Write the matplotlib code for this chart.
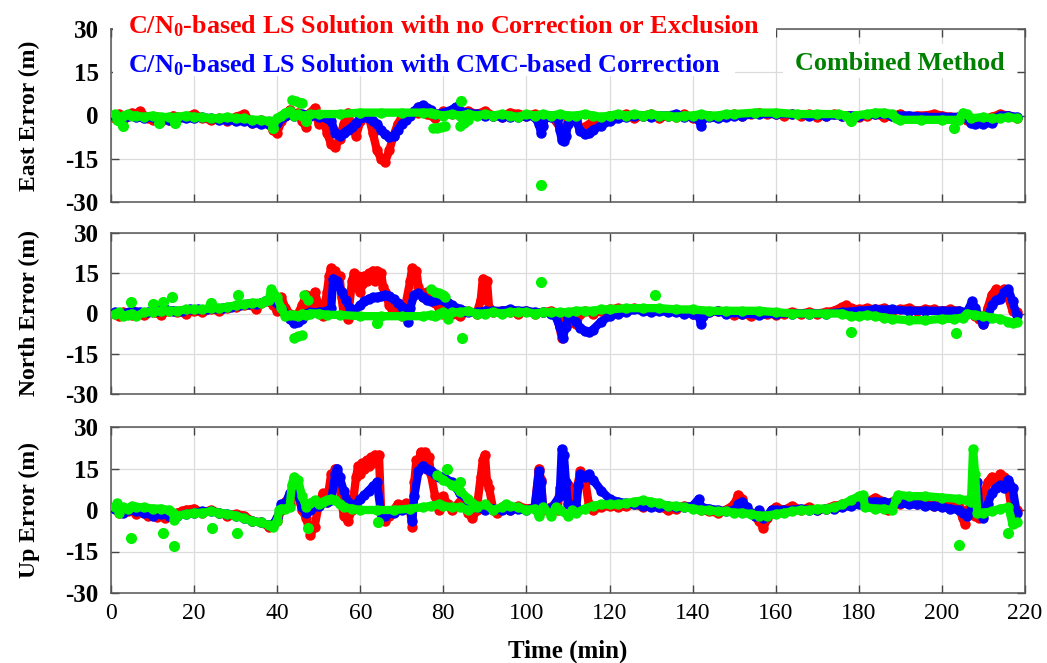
import matplotlib.pyplot as plt
from matplotlib.patches import Rectangle

plt.rcParams['font.family'] = 'Liberation Serif'
plt.rcParams['mathtext.fontset'] = 'custom'
plt.rcParams['mathtext.rm'] = 'Liberation Serif:bold'
plt.rcParams['mathtext.default'] = 'rm'
plt.rcParams['axes.unicode_minus'] = False

# ---------------- East error (m) ----------------
east_red_t = [1, 2, 3, 4, 5, 6, 7, 8, 9, 10, 11, 12, 13, 14, 15, 16, 18, 20, 22, 24, 26, 28, 30, 32, 34, 36, 38, 39, 40,
              41, 42, 43, 44, 45, 46, 47, 48, 49, 50, 51, 52, 53, 54, 55, 56, 57, 58, 59, 60, 61, 62, 63, 64, 65, 66,
              67, 68, 69, 70, 72, 74, 76, 78, 80, 82, 84, 86, 88, 90, 92, 94, 96, 98, 100, 102, 104, 106, 108, 109,
              110, 112, 113, 114, 116, 118, 120, 122, 124, 126, 128, 130, 132, 134, 136, 138, 140, 142, 144, 146, 148,
              150, 152, 154, 156, 158, 160, 162, 164, 166, 168, 170, 172, 174, 176, 178, 180, 182, 184, 186, 188, 190,
              192, 194, 196, 198, 200, 202, 204, 206, 208, 210, 212, 214, 216, 218]
east_red_v = [-1, 0.5, -1.5, 0, 1, 0.5, 1.5, 0, -1, -1.5, -0.5, -2, -1, -1.5, 0, -0.5, -0.5, 0.5, -1, -1.5, -1, -2, -0.5,
              0.5, -2.5, -1.5, -3, -5, -6, -2, 0, 2, 0.5, 1, -2, -4, 1, 2.5, -3, -1, -6, -10, -11, -8, -3, 1, -4, -7, -2,
              0.5, 0, -6, -12, -15, -16, -12, -7, -3, -0.5, 0.5, 1, 0.5, -1, 1.5, 0.5, 1, 1.5, 0.5, 1.5, 0, -0.5, 1, 0.5,
              0, 0.5, -1, 0, -4, -8, -2, -1, -5, -4, -2, -1, 0, -0.5, 0.5, -1, 0, 0.5, -1, 0, -0.5, 0.5, -1, -1.5, 0,
              -0.5, 0, 0.5, 0, 0.5, 1, 0.5, 0.5, 0, 0.5, 0, 0.5, -0.5, 0, 0.5, 0, 0, -0.5, 0, 0.5, -0.5, 0, 0.5, -0.5, 0,
              0, 0.5, 0, -0.5, -0.5, -1.5, -2, -1.5, -0.5, 0.5, 0, -1]

east_blue_t = [1, 2, 3, 4, 6, 8, 10, 12, 14, 16, 18, 20, 22, 24, 26, 28, 30, 32, 34, 36, 38, 40, 41, 42, 44, 46, 48, 50,
               52, 53, 54, 55, 56, 57, 58, 59, 60, 61, 62, 63, 64, 65, 66, 67, 68, 69, 70, 71, 72, 73, 74, 75, 76, 77,
               78, 80, 82, 83, 84, 86, 88, 90, 92, 94, 96, 98, 100, 102, 103, 103.5, 104, 104.5, 106, 107.5, 108, 108.5,
               109, 109.5, 110, 111, 112, 113, 114, 115, 116, 118, 120, 122, 124, 126, 128, 130, 132, 134, 136, 138,
               140, 141.5, 142, 142.5, 144, 146, 148, 150, 152, 156, 160, 164, 168, 172, 176, 180, 184, 188, 192, 196,
               200, 204, 206, 207, 208, 210, 212, 213, 214, 216, 218]
east_blue_v = [0, -1, -0.5, 0, -0.5, -1, -0.5, -1, -1.5, -1, -1, -1, -0.5, -1, -1.5, -1.5, -2, -2, -2.5, -3, -3, -2.5,
               -1, 0, 0, 0.5, 0, -0.5, -1, -2, -6, -7, -6, -5, -4, -2.5, -1, -0.5, -1, -2, -3, -5, -6.5, -7.5, -7, -5,
               -3, -1.5, 0, 1.5, 3, 3.5, 2.5, 2, 0.5, 1, 2, 3, 1.5, 1, 0.5, 0, 0, -0.5, -0.5, -0.5, 0, -0.5, -3, -6,
               -3.5, -0.5, -0.5, -1, -5, -8.5, -9, -7, -3, -1, -2, -5.5, -6.5, -6, -5, -3.5, -2, -1, -0.5, 0, 0, -0.5,
               0, 0, 0.5, -0.5, -0.5, -1.5, -3.5, -1, -0.5, -1, -0.5, 0, 0, 0.5, 0.5, 0.5, 0, 0, 0, 0, 0.5, 0, 0, -0.5,
               -0.5, -0.5, -1, -2.5, -3, -3, -2.5, -1, 0, 0, -0.5]

east_green_t = [1, 1.5, 2, 3, 4, 5, 6, 8, 10, 12, 14, 16, 18, 20, 22, 24, 26, 28, 30, 32, 34, 36, 38, 39, 40, 41, 42,
                43, 44, 45, 46, 47, 48, 50, 55, 60, 65, 70, 75, 77, 78, 80, 82, 84, 86, 88, 90, 92, 94, 96, 98, 100,
                102, 104, 106, 108, 110, 112, 114, 116, 118, 120, 122, 124, 126, 128, 130, 132, 134, 136, 138, 140,
                142, 144, 146, 148, 150, 155, 160, 165, 170, 175, 177, 178, 179, 182, 184, 186, 188, 189, 190, 195,
                200, 204, 205, 206, 207, 210, 212, 214, 216, 218]
east_green_v = [0.5, -1.5, -2, 0, 0.5, 0, 0, -0.5, 0, -0.5, -0.5, -0.5, 0, -0.5, -0.5, -1, -1, -0.5, -1, -1, -1.5,
                -1.5, -2, -2.5, -1, 0, 1, 1.5, 0, 0.5, 0, 0, 0.5, 0.5, 0.5, 1, 1, 1, 1, 1, 0.5, 0, 0.5, 0, 0.5, 0,
                0.5, 0, 0.5, 0, -0.5, 0.5, 0, 0.5, 0, 0.5, 0, 0, 0.5, 0, -0.5, 0, 0.5, 0, 0.5, 0, 0.5, 0, 0, -0.5, 0,
                0, 0.5, 0, 0, 0.5, 0.5, 1, 1, 0.5, 0.5, 0.5, 0, -1, 0, 0.5, 1, 1, 0.5, -1, -1.5, -1.5, -1.5, -1.5, 1,
                0.5, -1, -0.5, -1, -1, -0.5, -1]
east_green_seg_t = [[43.5, 44.5, 45.5, 46], [77.5, 78.5, 79.5, 80.3], [84, 85, 86]]
east_green_seg_v = [[5.5, 5, 4.5, 4.5], [-4.5, -4.2, -4, -3.8], [-3.5, -2.5, -1.5]]
east_green_out_t = [3, 11.5, 15.5, 39, 47, 84.2, 103.6, 178, 203]
east_green_out_v = [-3.5, -2.5, -2.5, -4.5, -2, 5.2, -24, -2, -4.3]

# ---------------- North error (m) ----------------
north_red_t = [1, 2, 3, 4, 5, 6, 8, 10, 12, 14, 16, 18, 20, 22, 24, 26, 28, 30, 32, 34, 35, 36, 38, 39, 40, 41, 42,
               43, 44, 45, 46, 47, 48, 49, 50, 51, 52, 52.5, 53, 53.5, 54, 54.5, 55, 55.5, 56, 57, 58, 58.5, 59,
               59.5, 60, 60.5, 61, 61.5, 62, 62.5, 63, 63.5, 64, 64.5, 65, 65.5, 66, 67, 68, 69, 70, 71, 72, 72.5,
               73, 73.5, 74, 75, 76, 77, 78, 79, 80, 81, 82, 84, 86, 88, 89, 89.5, 90, 90.5, 91, 92, 94, 96, 98,
               100, 102, 104, 106, 107.5, 108.5, 109.5, 110, 111, 112, 113, 114, 116, 118, 120, 122, 124, 126, 128,
               130, 132, 134, 136, 138, 140, 142, 144, 146, 148, 150, 152, 154, 156, 158, 160, 162, 164, 166, 168,
               170, 172, 174, 176, 177, 178, 180, 182, 184, 186, 188, 190, 192, 194, 196, 198, 200, 202, 204, 205,
               206, 208, 209, 210, 211, 212, 213, 214, 215, 216, 217, 218]
north_red_v = [0, -1, 0.5, 0, -0.5, 0.5, -0.5, 0.5, -0.5, 1, 0.5, 0, 1, 0.5, 1.5, 1, 2, 2.5, 3, 3, 1.5, 4, 4.5, 3, 1,
               6, 2, 0, -1, 0, 3, 7, 1, 8, 3, -1, 8, 14, 17, 13, 16, 11, 14, 6, 0, -2, 12, 15, 10, 14, 8, 11, 14, 12,
               15, 13, 16, 12, 16, 13, 15, 10, 8, 3, 0, 2, -1, 4, 12, 17, 13, 16, 10, 6, 8, 8.5, 4, 2, 0, 4, 0, -1, 1,
               0, 5, 13, 8, 12, 2, 0.5, 1, 0.5, 0, 1, 0, 0.5, 1, -2, -9, -3, 0, -3, -4, 0, 1, 0, 1, 1.5, 2, 1, 2, 1.5,
               1, 1.5, 1, 1, 0.5, 0, 1, 0.5, 1, 0.5, -0.5, 0, -1, 0.5, 0, -0.5, 0, 0.5, 0, 0.5, 0, 0.5, 1, 2.5, 3, 2,
               1.5, 2, 1.5, 2, 1, 1.5, 2, 1, 1.5, 1.5, 1, 1.5, 1, -1, 0.5, -1, -2, -4, 2, 7, 9, 8, 9, 6, 1, 0.5]

north_blue_t = [1, 3, 5, 7, 9, 11, 13, 15, 17, 19, 21, 23, 25, 27, 29, 31, 33, 35, 37, 39, 40, 41, 42, 43, 44, 45,
                46, 47, 48, 50, 52, 53, 53.5, 54.5, 55.5, 56.5, 57.5, 58.5, 60, 61, 62, 63, 64, 65, 66, 67, 68, 69,
                70, 71, 71.5, 72, 73, 74, 75, 76, 77, 78, 79, 80, 81, 82, 83, 84, 85, 86, 88, 90, 92, 94, 96, 98,
                100, 102, 104, 106, 107, 108, 108.7, 109.5, 110, 112, 113, 114, 115, 116, 118, 120, 122, 124, 126,
                128, 130, 132, 134, 136, 138, 140, 141.5, 142, 142.5, 144, 146, 148, 150, 152, 156, 160, 164, 168,
                172, 176, 180, 184, 188, 192, 196, 200, 204, 206, 207.3, 208, 209, 210, 211, 212, 213, 214, 215,
                216, 217, 218]
north_blue_v = [0.5, 0, 1, 0.5, 0.5, 1, 1.5, 1, 1, 1.5, 1.5, 1.5, 2, 2, 2.5, 3, 3.5, 3.5, 4.5, 5, 4, 2, 0, -2, -3.5,
                -3, -2, 0, 0.5, 0.5, 1, 2, 13, 12, 8, 5, 2, 1, 3, 4.5, 5.5, 6, 6, 6.5, 7, 6.5, 5.5, 4, 2.5, 0, -3, 2,
                7, 7.5, 6, 5, 4.5, 5, 5.5, 5, 4, 3, 2, 1.5, 1, 0.5, 0.5, 1, 1, 1, 1.5, 1, 1, 0.5, 0.5, 0, -1, -5, -9,
                -5, -1, -3, -5.5, -6.5, -7, -6, -3, -1, 0, 0.5, 1.5, 1, 0.5, 1, 0.5, 0.5, 0, 0, -1, -4, -1, 0.5, 1, 0,
                0.5, 0, -0.5, 0, 0, 0, 0, 0.5, 1, 1.5, 1.5, 1, 1, 1, 1, 0.5, 4.5, 2, -1, -4, -1.5, 3, 5, 5.5, 8, 9,
                4.5, -0.5]

north_green_t = [1, 2, 3, 4, 5, 6, 8, 10, 12, 14, 16, 18, 20, 22, 24, 26, 28, 30, 32, 34, 36, 37, 38, 38.5, 39, 40,
                 41, 42, 43, 44, 45, 46, 47, 48, 50, 52, 55, 60, 65, 70, 75, 77, 78, 79, 80, 81, 82, 84, 86, 88, 90,
                 92, 94, 96, 98, 100, 102, 104, 106, 108, 110, 112, 114, 116, 118, 120, 124, 128, 132, 136, 140, 144,
                 148, 152, 156, 160, 164, 168, 172, 176, 178, 180, 182, 184, 186, 188, 192, 196, 200, 203, 205, 206,
                 208, 210, 212, 214, 216, 217, 218]
north_green_v = [0, 0.5, -1, -0.5, 0, -1, 0.5, 0.5, 1, 1, 1, 1.5, 1.5, 1.5, 2, 2, 2.5, 3, 3.5, 4, 4, 4.5, 5, 9, 7.5,
                 6, 2, -1, -0.5, -0.5, -1, 0, -0.5, 0, 0, -0.5, -0.5, -1, -1, -1, -1, -0.5, -1, 0, 0.5, -2, 0.5, 0.5,
                 1, 0, 0, 0.5, 0, 0.5, 0.5, 0.5, 0, 0.5, 0.5, 0.5, 0.5, 1, 1, 1, 1.5, 1.5, 2, 2, 2, 1.5, 1.5, 1, 1, 1,
                 1, 0.5, 0, 0, 0, 0, -1, -1, -0.5, -1, -1.5, -2, -2.5, -2.5, -2, -2, -1.5, 0, -0.5, -1, -1.5, -2, -3,
                 -3.5, -3]
north_green_seg_t = [[44, 45, 46], [46.5, 47.5], [77, 78, 79, 80, 80.5]]
north_green_seg_v = [[-9, -8.5, -8], [7, 5], [9, 8, 7.5, 7, 6]]
north_green_out_t = [4.8, 10, 12.4, 14.8, 24, 30.5, 64, 84.4, 103.6, 131, 178, 203.4]
north_green_out_v = [4.4, 3.4, 4.4, 6.3, 3.8, 6.8, -3.4, -9.3, 11.6, 7, -6.8, -7.4]

# ---------------- Up error (m) ----------------
up_red_t = [1, 2, 3, 4, 5, 6, 7, 8, 9, 10, 11, 12, 13, 14, 15, 16, 17, 18, 20, 22, 24, 26, 28, 30, 32, 34, 36, 38,
            39, 40, 41, 42, 43, 44, 45, 46, 47, 48, 49, 50, 51, 52, 53, 53.5, 54, 54.5, 55, 56, 57, 58, 59, 59.5,
            60, 60.5, 61, 61.5, 62, 62.5, 63, 63.5, 64, 64.5, 65, 66, 67, 68, 69, 70, 71, 72, 72.5, 73, 73.5, 74,
            74.5, 75, 75.5, 76, 76.5, 77, 78, 79, 80, 81, 82, 84, 86, 87, 88, 89, 89.5, 90, 90.5, 91, 92, 93, 94,
            96, 98, 100, 102, 103, 103.5, 104, 106, 107.5, 108, 109, 110, 111, 112, 113, 114, 115, 116, 118, 120,
            122, 124, 126, 128, 130, 132, 134, 136, 138, 140, 142, 144, 146, 148, 150, 151, 152, 153, 154, 156,
            157, 158, 159, 160, 162, 164, 166, 168, 170, 172, 174, 176, 178, 180, 182, 184, 186, 187, 188, 190,
            192, 194, 196, 198, 200, 202, 204, 205, 205.5, 206, 207, 208, 209, 210, 211, 212, 213, 214, 215, 216,
            217, 218]
up_red_v = [1, -1, 0.5, -0.5, 0, -1.5, 0, -1, -2, -1, -2.5, -1, -3, -1.5, -3, -1, -0.5, 0, 0.5, -1, 0, -1, -2, -1.5,
            -2, -4, -4.5, -6, -5.5, -4, 0, 3, 2, 8, 5, 0, -3, -9, -6, 2, 6, 3, 13, 9, 15, 11, 9, -2, -4, 0, 12, 16,
            13, 17, 15, 18, 16, 19, 17, 20, 18, 20, 0, -4, -2, 0, 2, 1, 2.5, 0, -6, 10, 18, 14, 21, 16, 21, 15, 19,
            13, 5, 0, 5, 2, 0, 3, -1, -3, 0, 12, 18, 20, 10, 8, 0, -1, 1, 0, 1.5, 0.5, 1, 15, 11, 0, 1, 0, 8, 10, 9,
            0, 7, 14, 12, 2, 0, 1, 1.5, 1, 1.5, 2, 1, 2, 1, 0, 0.5, 1.5, 1, 0, -0.5, -1, 0, 2, 5.5, 4, 0, -1, -4,
            -6.5, -3, 0, 1, 0, 1.5, 0, 1, 0, 0.5, 1.5, 2, 3, 4, 3, 4.5, 3, 0, 3, 2, 3, 2, 2.5, 1.5, 2, 1.5, 1, -3,
            -5, 0, 1, -2, -3, 5, 10, 12, 11, 13, 12, 8, -2, 0]

up_blue_t = [1, 2, 3, 4, 6, 8, 10, 12, 14, 16, 18, 20, 22, 24, 26, 28, 30, 32, 34, 36, 38, 39, 40, 41, 42, 43, 44,
             45, 46, 47, 48, 50, 52, 53, 54, 54.5, 55, 56, 57, 58, 59, 60, 61, 62, 63, 64, 65, 66, 68, 70, 72, 72.5,
             73, 74, 75, 76, 77, 78, 79, 80, 82, 84, 86, 88, 90, 92, 94, 96, 98, 100, 102, 103, 103.5, 104, 106,
             108, 108.5, 109, 109.5, 110, 112, 112.5, 113, 114, 115, 116, 118, 120, 122, 124, 126, 128, 130, 132,
             134, 136, 138, 140, 141.5, 142, 144, 146, 148, 150, 151, 152, 153, 154, 155, 156, 157, 158, 159, 160,
             162, 164, 166, 168, 170, 172, 174, 176, 178, 180, 182, 184, 186, 188, 190, 192, 194, 196, 198, 200, 202,
             204, 205, 206, 207, 208, 208.5, 209, 210, 211, 212, 213, 214, 215, 216, 217, 218]
up_blue_v = [0.5, 0, -1, 0, -0.5, -1, -2, -1.5, -2, -2, -1.5, -1, -0.5, -0.5, -1, -1.5, -2, -3, -4, -4.5, -5.5, -5,
             -3, 2, 2.5, 6, 7, 6, 1, -1, 0, 1.5, 3, 3.5, 13, 15, 12, 7, 3, 1, 2, 4, 5.5, 7, 8.5, 10, -1, -2, -1, 0, 0,
             -4, 5, 14, 16, 15, 14, 13, 12, 12, 10, 6, 3.5, 1, 0, 0.5, 0, 0, 0.5, 0, 1, 14, 10, 1, 0.5, 5, 22, 20, 10,
             2, 1, 9, 13, 12, 13, 11, 7, 4, 3, 2.5, 2, 1.5, 1, 1, 1.5, 1, 1, 1.5, 4, 1, 0.5, 0, -0.5, 0, 2, 3, 1, -1,
             -2, 0, -3, -2, 0, 0, 0, 0, 0.5, 0, 0, 0.5, 0.5, 1, 1.5, 2, 3, 3, 3, 2.5, 2.5, 2, 2, 1.5, 1.5, 1, 0.5, 0,
             -1, -2, 0, 8, 10, 0, -3, 2, 6, 8, 9, 8, 11, 8, -1]

up_green_t = [1, 1.5, 2, 3, 4, 5, 6, 8, 10, 12, 14, 15, 15.2, 16, 18, 20, 22, 24, 26, 28, 30, 32, 34, 36, 38, 39, 40,
              40.5, 41, 42, 43, 43.5, 44, 45, 46, 47, 48, 49, 50, 51, 52, 53, 54, 55, 56, 58, 60, 64, 68, 72, 75, 77,
              79, 80, 82, 84, 86, 88, 90, 92, 94, 95, 96, 98, 100, 102, 103, 104, 106, 107, 108, 110, 111, 112, 114,
              116, 118, 120, 122, 124, 126, 128, 130, 132, 134, 136, 138, 140, 142, 144, 146, 148, 150, 152, 154,
              156, 158, 160, 162, 164, 166, 168, 170, 172, 174, 176, 178, 180, 181, 181.5, 184, 186, 188, 189, 189.5,
              192, 196, 200, 204, 206, 207, 207.5, 208, 208.5, 210, 212, 214, 216, 217, 218]
up_green_v = [1, 2.5, -1, 1, 0.5, 1.5, 1, 1, 0.5, 0.5, 0, -1, -3.5, -2, -1.5, -1, -1, -0.5, -1, -1.5, -2, -3, -4,
              -4.5, -5.5, -6, -4, 0, 0.5, 0.5, 1, 9, 12, 11, 5, 1, 2.5, 3.5, 2, 3, 3.5, 4, 3.5, 2, 1, 0.5, 0, 0, 0,
              0.5, 1, 1.5, 2, 1.5, 1, 1, 0, 1, 2, 0, 1, 2, 1.5, 1, 0, 0.5, -2, 1, -2, 1, 0, -2, 0, -1, 0.5, 1.5, 2, 2,
              2, 2.5, 3, 3.5, 3, 2.5, 1.5, 1.5, 1, 0.5, 0, 0, -0.5, -0.5, -1, -1, -1.5, -2, -2, -1.5, -1, -0.5, 0, 0,
              0.5, 0.5, 1, 2, 3.5, 5, 5.5, 1, 0.5, 0.5, 0, 4, 5.5, 5, 5, 4.5, 4, 3.5, 3, 22, 13, -1, -1, -0.5, 0.5,
              1, -5, -4.5]
up_green_seg_t = [[78.5, 80, 82, 84, 86, 88]]
up_green_seg_v = [[12.5, 11, 9, 7, 4, 1.5]]
up_green_out_t = [4.8, 12.4, 15.1, 24.2, 30.3, 47.3, 64.2, 80.8, 84, 204, 216, 217]
up_green_out_v = [-10.2, -8.4, -13, -6.4, -8.2, -6.6, -4.2, 15, 10, -12.6, -8.4, -4.8]

x_ticks = [0, 20, 40, 60, 80, 100, 120, 140, 160, 180, 200, 220]
y_ticks = [-30, -15, 0, 15, 30]
y_labels = ['East Error (m)', 'North Error (m)', 'Up Error (m)']

RED, BLUE, GREEN = '#ff0000', '#0000ff', '#00f000'
W, H = 1047, 663

fig = plt.figure(figsize=(W / 100, H / 100), dpi=100)

panels = [
    ((29, 202), (east_red_t, east_red_v), (east_blue_t, east_blue_v), (east_green_t, east_green_v),
     (east_green_seg_t, east_green_seg_v), (east_green_out_t, east_green_out_v)),
    ((233, 394), (north_red_t, north_red_v), (north_blue_t, north_blue_v), (north_green_t, north_green_v),
     (north_green_seg_t, north_green_seg_v), (north_green_out_t, north_green_out_v)),
    ((427, 593), (up_red_t, up_red_v), (up_blue_t, up_blue_v), (up_green_t, up_green_v),
     (up_green_seg_t, up_green_seg_v), (up_green_out_t, up_green_out_v)),
]

line_kw = dict(lw=6, ms=6.5, solid_capstyle='round', solid_joinstyle='round')

for i, (pos, red, blue, green, segs, outs) in enumerate(panels):
    top, bot = pos
    ax = fig.add_axes([111 / W, 1 - bot / H, 914 / W, (bot - top) / H])
    ax.plot(red[0], red[1], '-o', color=RED, zorder=2, **line_kw)
    ax.plot(blue[0], blue[1], '-o', color=BLUE, zorder=3, **line_kw)
    ax.plot(green[0], green[1], '-o', color=GREEN, zorder=4, **line_kw)
    for st, sv in zip(segs[0], segs[1]):
        ax.plot(st, sv, '-o', color=GREEN, zorder=4, **line_kw)
    ax.plot(outs[0], outs[1], 'o', color=GREEN, ms=7, zorder=4)

    ax.set_xlim(0, 220)
    ax.set_ylim(-30, 30)
    ax.set_xticks(x_ticks)
    ax.set_yticks(y_ticks)
    ax.grid(True, color='#dcdcdc', lw=0.9)
    ax.set_axisbelow(True)
    ax.tick_params(direction='in', length=6, width=1, color='#444444', top=True, right=True)
    ax.tick_params(axis='y', labelsize=18, pad=9)
    ax.tick_params(axis='x', labelsize=17, pad=7)
    for lab in ax.get_yticklabels():
        lab.set_fontweight('bold')
    for sp in ax.spines.values():
        sp.set_color('#555555')
        sp.set_linewidth(1.1)
    ax.set_ylabel(y_labels[i], fontsize=17, fontweight='bold')
    ax.yaxis.set_label_coords(-0.078, 0.5)
    if i < 2:
        ax.tick_params(labelbottom=False)
    else:
        ax.set_xlabel('Time (min)', fontsize=18, fontweight='bold')
        ax.xaxis.set_label_coords(0.5, -0.28)

# white backing behind the method names
for x0, y0, x1, y1 in [(113, 0, 776, 40), (113, 40, 735, 76), (783, 44, 1017, 78)]:
    fig.add_artist(Rectangle((x0 / W, 1 - y1 / H), (x1 - x0) / W, (y1 - y0) / H,
                             transform=fig.transFigure, facecolor='white', edgecolor='none', zorder=5))

fig.text(128 / W, 1 - 33 / H, r'C/N$_0$-based LS Solution with no Correction or Exclusion',
         color=RED, fontsize=18.8, fontweight='bold', ha='left', va='baseline', zorder=6)
fig.text(128 / W, 1 - 72 / H, r'C/N$_0$-based LS Solution with CMC-based Correction',
         color=BLUE, fontsize=18.8, fontweight='bold', ha='left', va='baseline', zorder=6)
fig.text(795 / W, 1 - 70 / H, 'Combined Method',
         color='#008000', fontsize=18.8, fontweight='bold', ha='left', va='baseline', zorder=6)

fig.savefig('out.png', dpi=100)
